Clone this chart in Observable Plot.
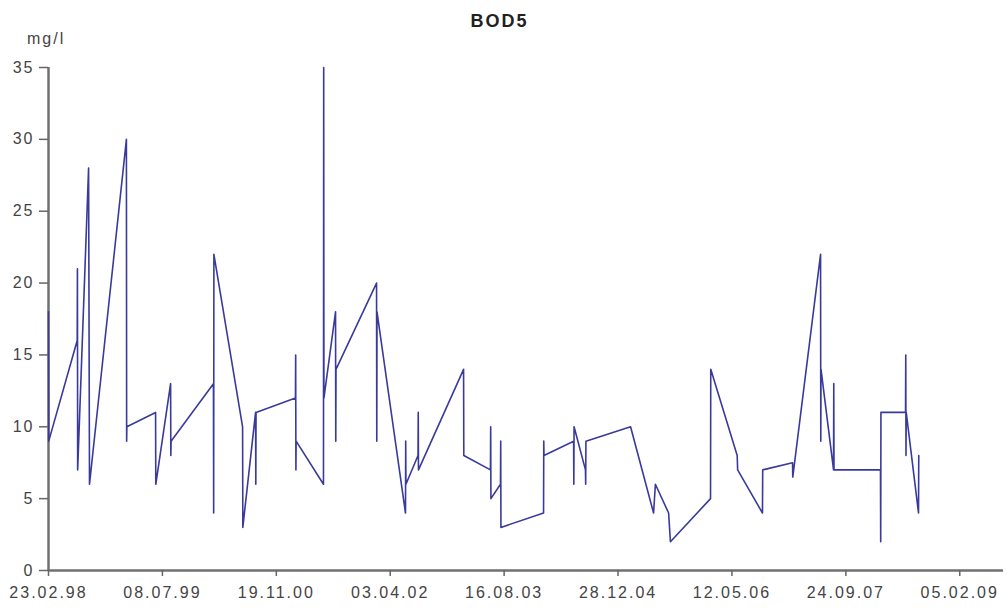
<!DOCTYPE html>
<html><head><meta charset="utf-8">
<script src="https://cdn.jsdelivr.net/npm/d3@7"></script>
<script src="https://cdn.jsdelivr.net/npm/@observablehq/plot@0.6"></script>
<style>
body{margin:0;background:#fff;font-family:"Liberation Sans",Arial,sans-serif;}
#wrap{width:1007px;}
#head{position:relative;height:52px;}
#title{position:absolute;left:0;width:999px;text-align:center;top:11px;font-weight:bold;font-size:18px;letter-spacing:2px;color:#222;}
#unit{position:absolute;left:27px;top:30px;font-size:16px;color:#444;letter-spacing:2px;}
#chart svg text{letter-spacing:2px;}
</style></head><body>
<div id="wrap"><div id="head"><div id="title">BOD5</div><div id="unit">mg/l</div></div><div id="chart"></div></div>
<script>
const dates = [
 "1998-02-23","1998-02-24","1998-06-29","1998-06-30","1998-07-01","1998-08-18","1998-08-22",
 "1999-01-31","1999-02-01","1999-02-02","1999-06-08","1999-06-09","1999-08-13","1999-08-14","1999-08-15",
 "2000-02-17","2000-02-18","2000-02-19","2000-06-24","2000-06-25","2000-08-20","2000-08-21","2000-08-22",
 "2001-02-11","2001-02-12","2001-02-13","2001-02-14","2001-06-14","2001-06-15","2001-06-16",
 "2001-08-06","2001-08-07","2001-08-08","2002-02-02","2002-02-03","2002-02-04",
 "2002-06-09","2002-06-10","2002-06-11","2002-08-03","2002-08-04","2002-08-05",
 "2003-02-19","2003-02-20","2003-06-17","2003-06-18","2003-06-19","2003-07-31","2003-08-01","2003-08-02",
 "2004-02-05","2004-02-06","2004-02-07","2004-06-16","2004-06-17","2004-06-18","2004-08-07","2004-08-08","2004-08-09",
 "2005-02-21","2005-06-02","2005-06-10","2005-08-07","2005-08-15",
 "2006-02-07","2006-02-08","2006-06-04","2006-06-06","2006-09-23","2006-09-24",
 "2007-02-02","2007-02-03","2007-06-05","2007-06-06","2007-06-07","2007-08-01","2007-08-02","2007-08-03",
 "2008-02-23","2008-02-24","2008-02-25","2008-06-12","2008-06-13","2008-06-14","2008-06-15","2008-08-08","2008-08-09"
];
const values = [
 18,9,16,21,7,28,6,
 30,9,10,11,6,13,8,9,
 13,4,22,10,3,11,6,11,
 12,15,7,9,6,35,12,
 18,9,14,20,9,18,
 4,9,6,8,11,7,
 14,8,7,10,5,6,9,3,
 4,9,8,9,6,10,7,6,9,
 10,4,6,4,2,
 5,14,8,7,4,7,
 7.5,6.5,22,9,14,7,13,7,
 7,2,11,11,15,8,11,4,8
];
const tickLabels = ["23.02.98","08.07.99","19.11.00","03.04.02","16.08.03","28.12.04","12.05.06","24.09.07","05.02.09"];
const yTicks = [0,5,10,15,20,25,30,35];
const xEnd = "2009-08-16";

const parseTick = d3.utcParse("%d.%m.%y");
const xTicks = tickLabels.map(parseTick);
const data = dates.map((d,i)=>({date:new Date(d), value:values[i]}));

const chart = Plot.plot({
  width:1007, height:560,
  marginLeft:48, marginRight:4, marginTop:15, marginBottom:42,
  style:{fontFamily:"Liberation Sans, Arial, sans-serif", fontSize:"16px", color:"#444", background:"#fff"},
  x:{type:"utc", domain:[xTicks[0], new Date(xEnd)]},
  y:{domain:[0,35]},
  marks:[
    Plot.ruleY([0],{stroke:"#707070",strokeWidth:2.5}),
    Plot.ruleX([xTicks[0]],{stroke:"#707070",strokeWidth:2.5}),
    Plot.axisX({ticks:xTicks, tickFormat:d3.utcFormat("%d.%m.%y"), tickSize:6, tickPadding:10, label:null, stroke:"#666", strokeWidth:1.5}),
    Plot.axisY({ticks:yTicks, tickSize:9, tickPadding:5, label:null, stroke:"#666", strokeWidth:1.5}),
    Plot.line(data,{x:"date",y:"value",stroke:"#3a3a9c",strokeWidth:1.6})
  ]
});
document.getElementById("chart").appendChild(chart);
</script>
</body></html>
